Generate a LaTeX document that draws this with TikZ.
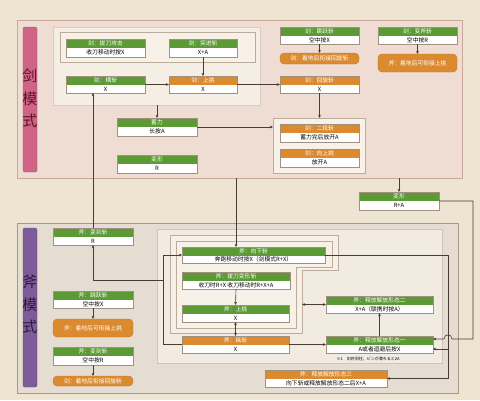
\documentclass[tikz,border=0pt]{standalone}
\usepackage{fontspec}
\setmainfont{Noto Sans CJK SC}
\usetikzlibrary{arrows.meta}
\definecolor{bg}{HTML}{EEE4D2}
\definecolor{swfill}{HTML}{EFDCD3}
\definecolor{swline}{HTML}{C9A89C}
\definecolor{lightp}{HTML}{F5EEE5}
\definecolor{grp}{HTML}{F7F1E8}
\definecolor{grpline}{HTML}{BCAC9C}
\definecolor{axfill}{HTML}{E5DDD2}
\definecolor{axline}{HTML}{A89888}
\definecolor{mgreen}{HTML}{5B9A35}
\definecolor{morange}{HTML}{DC8A30}
\definecolor{boxline}{HTML}{A09080}
\definecolor{lc}{HTML}{4A3C32}
\definecolor{swbarc}{HTML}{CF6487}
\definecolor{axbarc}{HTML}{7E5B99}
\definecolor{swtxt}{HTML}{5E1525}
\definecolor{axtxt}{HTML}{2E1A38}
\tikzset{
  nbox/.style={draw=boxline, line width=0.4pt, fill=white, inner sep=0pt, outer sep=0pt},
  htext/.style={text=white, font=\fontsize{5.8}{6}\selectfont, inner sep=0pt},
  btext/.style={text=black, font=\fontsize{5.8}{6}\selectfont, inner sep=0pt},
  obox/.style={fill=morange, draw=morange!85!black, line width=0.3pt, rounded corners=4pt, text=white, font=\fontsize{5.8}{6}\selectfont, inner sep=0pt, outer sep=0pt},
  panelbox/.style={inner sep=0pt, outer sep=0pt},
  bartext/.style={font=\fontsize{15}{15}\selectfont, inner sep=0pt},
  conn/.style={draw=lc, line width=0.6pt},
  arr/.style={conn, -{Stealth[length=3.2pt,width=2.8pt]}},
  darr/.style={conn, {Stealth[length=3.2pt,width=2.8pt]}-{Stealth[length=3.2pt,width=2.8pt]}},
}
\newcommand\mhpanel[6]{%
  \node[panelbox,#6, minimum width={(#4-#2)*1pt}, minimum height={(#5-#3)*1pt}] (#1) at ({(#2+#4)/2},{(#3+#5)/2}) {};}
\newcommand\mhnode[8]{%
  \node[nbox, minimum width={(#4-#2)*1pt}, minimum height={(#5-#3)*1pt},
    path picture={\fill[#6] (path picture bounding box.north west) rectangle ([yshift=-8.5pt]path picture bounding box.north east);}]
    (#1) at ({(#2+#4)/2},{(#3+#5)/2}) {};
  \node[htext] (#1-h) at ({(#2+#4)/2},{#3+4.4}) {#7};
  \node[btext] (#1-b) at ({(#2+#4)/2},{(#3+8.5+#5)/2+0.3}) {#8};}
\newcommand\mhobox[6]{%
  \node[obox, minimum width={(#4-#2)*1pt}, minimum height={(#5-#3)*1pt}] (#1) at ({(#2+#4)/2},{(#3+#5)/2}) {#6};}
\begin{document}
\begin{tikzpicture}[x=1pt,y=-1pt]
\path[use as bounding box, fill=bg] (0,0) rectangle (480,400);
% ---------- sword panel ----------
\mhpanel{swpanel}{17}{20}{462}{178}{fill=swfill, draw=swline, line width=0.8pt}
\mhpanel{swlight}{53}{27}{260}{105}{fill=lightp, draw=grpline!60, line width=0.5pt}
\mhpanel{swgroup}{60}{32}{255}{62}{fill=grp, draw=grpline, line width=0.6pt}
\mhpanel{dgroup}{273}{118}{365}{173}{fill=grp, draw=grpline, line width=0.6pt}
\mhpanel{swbar}{23}{27}{37}{172}{fill=swbarc, draw=swbarc!80!black, line width=0.4pt, rounded corners=2pt}
\node[bartext, text=swtxt] (swl1) at (30,76) {剑};
\node[bartext, text=swtxt] (swl2) at (30,99) {模};
\node[bartext, text=swtxt] (swl3) at (30,121) {式};
% ---------- axe panel ----------
\mhpanel{axpanel}{17}{223}{458}{393}{fill=axfill, draw=axline, line width=0.8pt}
\mhpanel{axlight}{157}{229}{442}{363}{fill=lightp!80!axfill, draw=grpline!70, line width=0.5pt}
\draw[fill=grp!70!lightp, draw=grpline, line width=0.6pt] (170,235) -- (338,235) -- (338,270) -- (302,270) -- (302,333) -- (170,333) -- cycle;
\draw[fill=grp, draw=grpline, line width=0.6pt] (176,241) -- (332,241) -- (332,267) -- (296,267) -- (296,328) -- (176,328) -- cycle;
\mhpanel{axbar}{23}{228}{37}{387}{fill=axbarc, draw=axbarc!80!black, line width=0.4pt, rounded corners=2pt}
\node[bartext, text=axtxt] (axl1) at (30,282) {斧};
\node[bartext, text=axtxt] (axl2) at (30,305) {模};
\node[bartext, text=axtxt] (axl3) at (30,327) {式};
% ---------- sword nodes ----------
\mhnode{sw1}{66}{39}{145}{57}{mgreen}{剑：拔刀攻击}{收刀移动时按X}
\mhnode{sw2}{169}{39}{237}{57}{mgreen}{剑：突进斩}{X+A}
\mhnode{sw3}{66}{76}{145}{93}{mgreen}{剑：横斩}{X}
\mhnode{sw4}{169}{76}{237}{93}{morange}{剑：上挑}{X}
\mhnode{sw5}{280}{27}{359}{44}{mgreen}{剑：跳跃斩}{空中按X}
\mhobox{so1}{280}{53}{359}{64}{剑：着地后衔接回旋斩}
\mhnode{sw6}{378}{27}{457}{44}{mgreen}{剑：变斧斩}{空中按R}
\mhobox{so2}{378}{54}{457}{72}{斧：着地后可衔接上挑}
\mhnode{sw7}{280}{76}{359}{93}{morange}{剑：回旋斩}{X}
\mhnode{sw8}{117}{118}{197}{136}{mgreen}{蓄力}{长按A}
\mhnode{sw9}{280}{124}{359}{142}{morange}{剑：二段斩}{蓄力完后放开A}
\mhnode{sw10}{280}{149}{359}{167}{morange}{剑：向上挑}{放开A}
\mhnode{sw11}{117}{155}{197}{173}{mgreen}{变形}{R}
\mhnode{bx2}{359}{192}{439}{210}{mgreen}{变形}{R+A}
% ---------- axe nodes ----------
\mhnode{ax1}{53}{228}{133}{245}{mgreen}{斧：变剑斩}{R}
\mhnode{ax2}{53}{291}{133}{308}{mgreen}{斧：跳跃斩}{空中按X}
\mhobox{ao1}{53}{319}{133}{337}{斧：着地后可衔接上挑}
\mhnode{ax3}{53}{347}{133}{365}{mgreen}{斧：变剑斩}{空中按R}
\mhobox{ao2}{53}{376}{133}{386}{剑：着地后衔接回旋斩}
\mhnode{ax4}{182}{247}{325}{263}{mgreen}{斧：向下斩}{奔跑移动时按X（剑模式R+X）}
\mhnode{ax5}{182}{272}{290}{289}{mgreen}{斧：拔刀变形斩}{收刀时R+X 收刀移动时R+X+A}
\mhnode{ax6}{182}{305}{289}{322}{mgreen}{斧：上挑}{X}
\mhnode{ax7}{182}{336}{289}{353}{morange}{斧：纵斩}{X}
\mhnode{ax8}{326}{296}{433}{313}{mgreen}{斧：释放解放形态二}{X+A（联携时按A）}
\mhnode{ax9}{326}{336}{433}{353}{mgreen}{斧：释放解放形态一}{A或者迴避后按X}
\mhnode{ax10}{265}{370}{387}{387}{morange}{斧：释放解放形态三}{向下斩或释放解放形态二后X+A}
\node[btext, font=\fontsize{4}{4}\selectfont] (note) at (368,359) {※1　剑时间往，ビンが満ちると2A};
% ---------- helper coordinates ----------
\coordinate (jx) at (163,0);
\coordinate (jd) at (448,0);
\coordinate (jr) at (473,0);
\coordinate (gb) at (302,0);
\coordinate (pA) at ([yshift=5.5pt]ax9.east);
\coordinate (pB) at ([yshift=-4.5pt]ax9.east);
\coordinate (hop) at (jd |- pA);
% ---------- sword connectors ----------
\draw[arr] (sw3.east) -- (sw4.west);
\draw[arr] (sw2.south) -- (sw4.north);
\draw[arr] (sw4.east) -- (sw7.west);
\draw[arr] (sw5.south) -- (so1.north);
\draw[arr] (sw6.south) -- (so2.north);
\draw[arr] (sw8.north |- swlight.south) -- (sw8.north);
\draw[arr] (sw8.east) -- (sw8.east -| dgroup.west);
\draw[arr] (sw7.south) -- (sw7.south |- dgroup.north);
\draw[arr] (bx2.north |- swpanel.south) -- (bx2.north);
\draw[arr] (ax1.north) -- (ax1.north |- sw3.south);
% ---------- axe connectors ----------
\draw[arr] (ax5.north |- swpanel.south) -- (ax5.north |- ax4.north);
\draw[arr] (ax2.south) -- (ao1.north);
\draw[arr] (ax3.south) -- (ao2.north);
\draw[arr] (ax5.south) -- (ax6.north);
\draw[darr] (ax6.south) -- (ax7.north);
\draw[darr] (gb |- ax8.west) -- (ax8.west);
\draw[arr] (ax7.east) -- (ax9.west);
\draw[arr] (ax9.north) -- (ax8.south);
\draw[arr] (ax7.west) -- (ax7.west -| jx) -- (jx |- ax4.west) -- (ax4.west);
\draw[arr] (jx |- ax5.west) -| (ax1.south);
\draw[arr] (ax4.east) -- (ax4.east -| jd) -- (jd |- ax10.east) -- (ax10.east);
\draw[arr] (jd |- pB) -- (pB);
\draw[arr] (bx2.east) -- (bx2.east -| jr) -- (jr |- pA) -- ([xshift=4pt]hop)
  .. controls ([xshift=4pt,yshift=5.5pt]hop) and ([xshift=-4pt,yshift=5.5pt]hop) .. ([xshift=-4pt]hop) -- (pA);
\end{tikzpicture}
\end{document}
